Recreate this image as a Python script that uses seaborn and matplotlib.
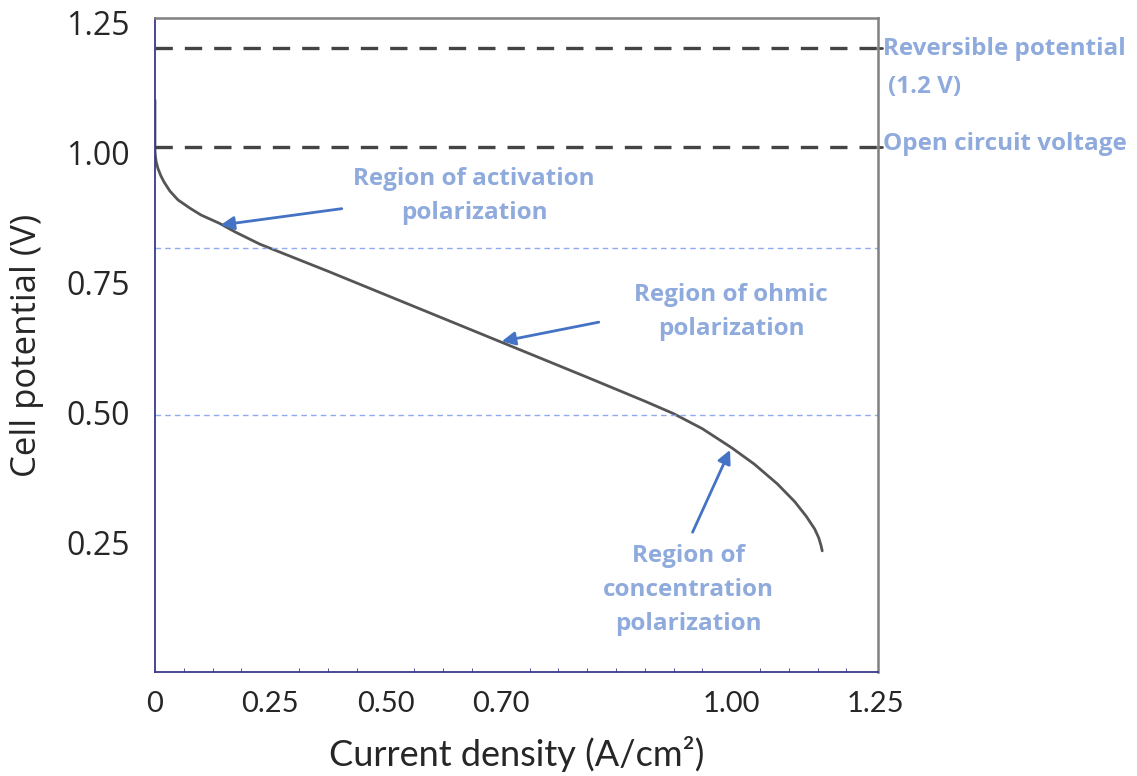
import numpy as np
import pandas as pd
import matplotlib
matplotlib.use("Agg")
import matplotlib.pyplot as plt
import seaborn as sns

# polarization curve
current = [0.0, 0.0, 0.001, 0.002, 0.005, 0.010, 0.016, 0.026, 0.040, 0.061, 0.080, 0.112,
           0.140, 0.182, 0.30, 0.45, 0.60, 0.75, 0.85, 0.90, 0.95, 1.0, 1.04, 1.08,
           1.11, 1.13, 1.145, 1.152, 1.156, 1.158]
voltage = [1.10, 1.002, 0.99, 0.982, 0.969, 0.955, 0.942, 0.925, 0.908, 0.892, 0.879, 0.863,
           0.846, 0.823, 0.771, 0.703, 0.635, 0.567, 0.521, 0.497, 0.468, 0.432, 0.400, 0.362,
           0.328, 0.300, 0.275, 0.258, 0.243, 0.233]

dark_lines = [1.20, 1.01]      # reversible potential, open circuit voltage
light_lines = [0.815, 0.494]   # region borders

xtick_pos = [0, 0.2, 0.4, 0.6, 1.0, 1.25]
xtick_lab = ["0", "0.25", "0.50", "0.70", "1.00", "1.25"]
ytick_pos = [0.25, 0.50, 0.75, 1.00, 1.25]
ytick_lab = ["0.25", "0.50", "0.75", "1.00", "1.25"]

sns.set_style("white")
plt.rcParams['font.family'] = ['Open Sans', 'DejaVu Sans']

fig = plt.figure(figsize=(11.37, 7.76), dpi=100)
ax = fig.add_axes([0.1363, 0.134, 0.636, 0.8428])

df = pd.DataFrame({"current": current, "voltage": voltage})
sns.lineplot(data=df, x="current", y="voltage", ax=ax, color="#555555", lw=2,
             sort=False, estimator=None)

for v in dark_lines:
    ax.axhline(v, color="#444444", lw=2.4, ls=(0, (5.2, 3.6)))
for v in light_lines:
    ax.axhline(v, color="#8eaaf0", lw=1.0, ls=(0, (4, 3)))

ax.set_xlim(0, 1.255)
ax.set_ylim(0, 1.258)
ax.set_xticks(xtick_pos)
ax.set_xticklabels(xtick_lab, family=["Lato", "DejaVu Sans"], fontsize=21)
ax.set_yticks(ytick_pos)
ax.set_yticklabels(ytick_lab, fontsize=23)
ax.set_xticks(np.arange(0.05, 1.25, 0.05), minor=True)
ax.tick_params(axis="x", which="major", length=0, pad=14)
ax.tick_params(axis="x", which="minor", direction="in", length=3, color="#3a3a8a", bottom=True)
ax.tick_params(axis="y", length=0, pad=18)

ax.set_xlabel("Current density (A/cm²)", fontsize=26, family=["Lato", "DejaVu Sans"], labelpad=13)
ax.set_ylabel("Cell potential (V)", fontsize=25, labelpad=16)

for side in ["left", "bottom"]:
    ax.spines[side].set_color("#3a3a8a")
    ax.spines[side].set_linewidth(1.3)
for side in ["top", "right"]:
    ax.spines[side].set_color("#808080")
    ax.spines[side].set_linewidth(1.8)

# small outward marks on the right spine at the dashed lines
for v in dark_lines:
    ax.plot([1.255, 1.262], [v, v], color="#444444", lw=2, clip_on=False)

txt = dict(color="#8faadc", fontsize=17.5, fontweight="bold", clip_on=False)
ax.text(1.263, 1.198, "Reversible potential", ha="left", va="center", **txt)
ax.text(1.273, 1.125, "(1.2 V)", ha="left", va="center", **txt)
ax.text(1.263, 1.016, "Open circuit voltage", ha="left", va="center", **txt)
ax.text(0.554, 0.916, "Region of activation\npolarization", ha="center", va="center",
        linespacing=1.55, **txt)
ax.text(1.0, 0.692, "Region of ohmic\npolarization", ha="center", va="center",
        linespacing=1.55, **txt)
ax.text(0.925, 0.158, "Region of\nconcentration\npolarization", ha="center", va="center",
        linespacing=1.55, **txt)

arrow = dict(arrowstyle="-|>", color="#4472c4", lw=2, mutation_scale=20)
ax.annotate("", xy=(0.109, 0.859), xytext=(0.329, 0.892), arrowprops=arrow)
ax.annotate("", xy=(0.597, 0.635), xytext=(0.775, 0.674), arrowprops=arrow)
ax.annotate("", xy=(1.0, 0.432), xytext=(0.931, 0.264), arrowprops=arrow)

fig.savefig("out.png", dpi=100)
